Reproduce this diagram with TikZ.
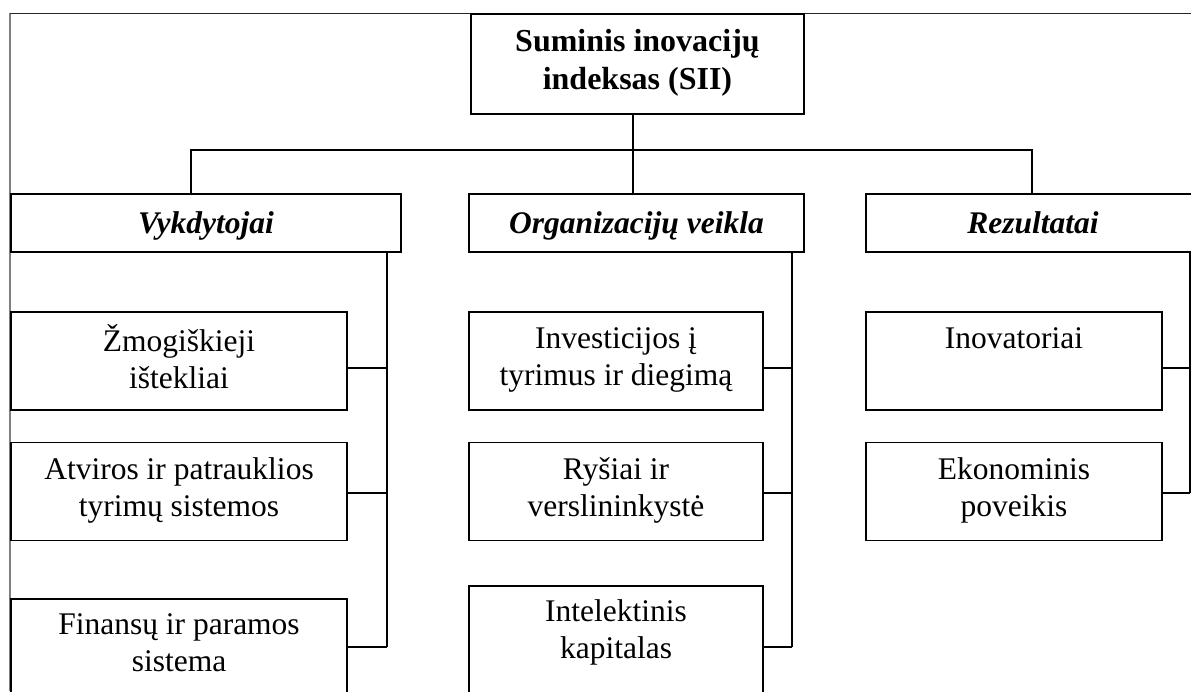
\documentclass[tikz,border=0pt]{standalone}
\usepackage{fontspec}
\setmainfont{Liberation Serif}
\usetikzlibrary{calc}

\newcommand{\boxstrut}{\rule[-9pt]{0pt}{39pt}}

\tikzset{
  box/.style={draw, line width=1.6pt, minimum width=336pt, minimum height=98pt,
    inner sep=0pt, align=center, font=\fontsize{31.5}{37}\selectfont,
    execute at begin node=\boxstrut, execute at end node=\boxstrut},
  catbox/.style={box, minimum height=58pt, font=\fontsize{31.5}{37}\selectfont\bfseries\itshape},
  link/.style={line width=1.4pt},
}

\begin{document}
\begin{tikzpicture}[x=1pt, y=-1pt]
  \useasboundingbox (0,0) rectangle (1191,691);
  \clip (0,0) rectangle (1191,691);
  % page frame
  \draw[gray, line width=1.5pt] (10,691) -- (10,13);
  \draw[black!85, line width=1pt] (10,13) -- (1191,13);
  % top
  \node[box, minimum width=333pt, minimum height=100pt,
        font=\fontsize{32}{38}\selectfont\bfseries] (sii) at (637.5,63.8)
        {Suminis inovacijų\\indeksas (SII)};
  % categories
  \node[catbox, minimum width=390pt] (vyk) at (206,223) {Vykdytojai};
  \node[catbox, minimum width=335pt] (org) at (636.5,223) {Organizacijų veikla};
  \node[catbox, minimum width=334pt] (rez) at (1033,223) {Rezultatai};
  % children
  \node[box] (z1) at (179,361) {Žmogiškieji\\ištekliai};
  \node[box] (z2) at (179,491.5) {Atviros ir patrauklios\\tyrimų sistemos};
  \node[box, minimum height=96pt] (z3) at (179,647) {Finansų ir paramos\\sistema};
  \node[box, minimum width=294pt] (o1) at (616,361) {Investicijos į\\tyrimus ir diegimą};
  \node[box, minimum width=294pt] (o2) at (616,491.5) {Ryšiai ir\\verslininkystė};
  \node[box, minimum width=294pt, minimum height=132pt] (o3) at (616,652) {Intelektinis\\kapitalas\\~};
  \node[box, minimum width=296pt] (r1) at (1014,361) {Inovatoriai\\~};
  \node[box, minimum width=296pt] (r2) at (1014,491.5) {Ekonominis\\poveikis};
  % tree
  \coordinate (brL) at (191,150);
  \coordinate (brM) at (633,150);
  \coordinate (brR) at (1032,150);
  \draw[link] (sii.south -| brM) -- (org.north -| brM);
  \draw[link] (vyk.north -| brL) -- (brL) -- (brR) -- (rez.north -| brR);
  % buses
  \coordinate (busV) at (387,647);
  \coordinate (busO) at (792,647);
  \coordinate (busR) at (1190,493);
  \draw[link] (vyk.south -| busV) -- (busV);
  \draw[link] (org.south -| busO) -- (busO);
  \draw[link] (rez.south -| busR) -- (busR);
  \foreach \n/\s in {z1/-7,z2/-1.5,z3/0}
    \draw[link] ([yshift=\s pt]\n.east) -- ([yshift=\s pt]\n.east -| busV);
  \foreach \n/\s in {o1/-7,o2/-1.5,o3/5}
    \draw[link] ([yshift=\s pt]\n.east) -- ([yshift=\s pt]\n.east -| busO);
  \foreach \n/\s in {r1/-7,r2/-1.5}
    \draw[link] ([yshift=\s pt]\n.east) -- ([yshift=\s pt]\n.east -| busR);
\end{tikzpicture}
\end{document}
